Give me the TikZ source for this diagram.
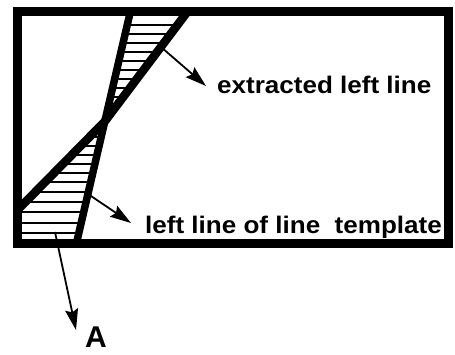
\documentclass[tikz,border=0pt]{standalone}
\usepackage{fontspec}
\setmainfont{Liberation Sans}[FakeStretch=1.085]
\newfontfamily\labelA{Liberation Sans}
\usetikzlibrary{arrows.meta}
\tikzset{
  frame/.style={line width=9pt, line join=miter},
  thickline/.style={line width=7.5pt, line cap=butt},
  hatch/.style={line width=1.4pt},
  pointer/.style={line width=1.8pt, -{Stealth[length=21pt,width=13pt,inset=3pt]}},
  lbl/.style={inner sep=0pt, anchor=base west, font=\fontsize{24}{28}\selectfont\bfseries},
  biglbl/.style={inner sep=0pt, anchor=base west, font=\fontsize{30}{34}\selectfont\labelA\bfseries}
}
\begin{document}
\begin{tikzpicture}[x=1pt,y=-1pt]
\useasboundingbox (0,0) rectangle (455,354);
% key points
\coordinate (T1) at (130.5,11);
\coordinate (T2) at (76.5,243);
\coordinate (E1) at (188,11);
\coordinate (I)  at (104.3,122);
\coordinate (E2) at (17.5,210);
\coordinate (BL) at (17.5,243);
% hatching
\begin{scope}
  \clip (T1) -- (E1) -- (I) -- cycle (I) -- (E2) -- (BL) -- (T2) -- cycle;
  \foreach \y in {25,34,43,52,61,70,79,88,97,106,115,128,137,146,155,164,173,182,192,202,212,223,233}
    \draw[hatch] (0,\y) -- (455,\y);
\end{scope}
% the two lines
\draw[thickline] (T1) -- (T2);
\draw[thickline, line width=8.5pt, line join=round] (E1) -- (I) -- (E2);
% frame
\draw[frame] (17.5,11) rectangle (448.5,243);
% labels
\node[lbl] (ext) at (217,93) {extracted left line};
\node[lbl] (tpl) at (145,233) {left line of line\ \ template};
\node[biglbl] (A) at (85,347) {A};
% pointers
\coordinate (p1s) at (161,47);
\coordinate (p1e) at (206,86);
\coordinate (p2s) at (88,194);
\coordinate (p2e) at (131,223);
\coordinate (p3s) at (55,232);
\coordinate (p3e) at (76,330);
\draw[pointer] (p1s) -- (p1e);
\draw[pointer] (p2s) -- (p2e);
\draw[pointer] (p3s) -- (p3e);
\end{tikzpicture}
\end{document}
